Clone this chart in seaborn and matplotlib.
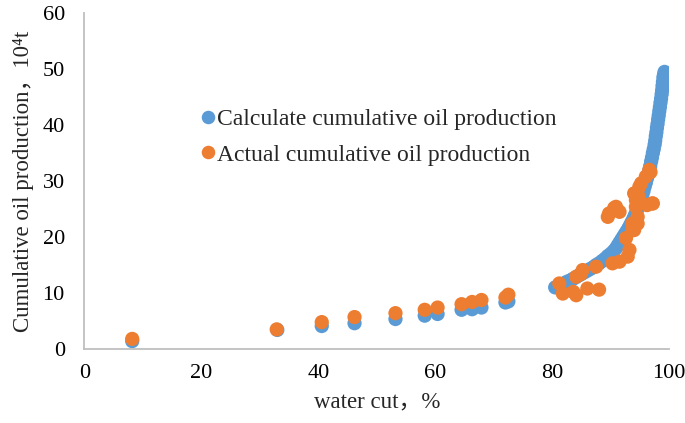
import pandas as pd
import matplotlib
matplotlib.use("Agg")
import matplotlib.pyplot as plt
import seaborn as sns

# calculated cumulative oil production (blue)
calc_wc = [8.2, 33.0, 40.6, 46.2, 53.2, 58.2, 60.4, 64.5, 66.3, 67.9, 72.0, 72.5,
           80.5, 81.0, 81.5, 82.0, 82.5, 83.0, 83.5, 84.0, 84.5, 85.0, 85.5, 86.0,
           86.5, 87.0, 87.5, 88.0, 88.5, 89.0, 89.5, 90.0, 90.5, 90.9, 91.2, 91.5,
           91.8, 92.1, 92.4, 92.7, 93.0, 93.25, 93.5, 93.75, 94.0, 94.25, 94.5, 94.75,
           95.0, 95.2, 95.4, 95.6, 95.8, 96.0, 96.2, 96.4, 96.6, 96.75, 96.9, 97.05,
           97.2, 97.35, 97.5, 97.6, 97.7, 97.8, 97.9, 98.0, 98.1, 98.2, 98.3, 98.4,
           98.5, 98.6, 98.7, 98.78, 98.85, 98.92, 99.0, 99.1, 99.2]
calc_np = [1.4, 3.4, 4.1, 4.6, 5.35, 5.95, 6.25, 7.0, 7.1, 7.4, 8.3, 8.5,
           11.0, 11.2, 11.5, 11.7, 12.0, 12.2, 12.5, 12.8, 13.1, 13.4, 13.7, 14.0,
           14.3, 14.6, 15.0, 15.3, 15.7, 16.1, 16.6, 17.0, 17.5, 18.0, 18.5, 19.0,
           19.5, 20.0, 20.5, 21.0, 21.5, 22.0, 22.5, 23.0, 23.6, 24.2, 24.8, 25.4,
           26.0, 26.7, 27.5, 28.2, 29.0, 29.7, 30.5, 31.2, 32.0, 32.7, 33.5, 34.2,
           35.0, 35.7, 36.5, 37.2, 38.0, 38.7, 39.5, 40.2, 41.0, 41.7, 42.5, 43.2,
           44.0, 44.7, 45.5, 46.2, 47.0, 47.7, 48.5, 49.0, 49.5]

# actual cumulative oil production (orange)
act_wc = [8.2, 32.9, 40.6, 46.2, 53.2, 58.2, 60.4, 64.5, 66.3, 67.9, 72.0, 72.5,
          81.2, 81.8, 84.1, 84.1, 85.2, 87.5, 86.0, 88.0, 84.9, 83.6,
          90.3, 91.5, 93.2, 92.6, 92.9, 93.7, 93.7, 94.0, 94.6,
          89.5, 89.7, 90.6, 90.9, 91.5,
          94.6, 94.3, 94.0, 94.3, 94.8, 94.9, 95.2, 96.0, 96.6, 96.8, 97.1, 96.2, 97.2]
act_np = [1.8, 3.5, 4.8, 5.7, 6.4, 7.0, 7.4, 8.0, 8.4, 8.75, 9.2, 9.7,
          11.7, 9.9, 9.6, 12.9, 14.1, 14.7, 10.8, 10.6, 13.4, 10.2,
          15.3, 15.6, 17.7, 19.8, 16.5, 21.2, 22.4, 21.25, 22.4,
          23.6, 24.2, 25.2, 25.4, 24.5,
          23.6, 25.4, 27.8, 26.6, 27.2, 29.0, 29.6, 30.8, 32.0, 31.6, 26.0, 25.7, 26.0]

calc_label = "Calculate cumulative oil production"
act_label = "Actual cumulative oil production"

df = pd.concat([
    pd.DataFrame({"wc": calc_wc, "np": calc_np, "series": calc_label}),
    pd.DataFrame({"wc": act_wc, "np": act_np, "series": act_label}),
], ignore_index=True)

sns.set_style("white")
plt.rcParams['font.family'] = ['Liberation Serif', 'DejaVu Serif', 'Noto Sans CJK SC']

fig, ax = plt.subplots(figsize=(6.85, 4.23), dpi=100)
fig.subplots_adjust(left=0.123, right=0.977, bottom=0.175, top=0.969)

sns.scatterplot(data=df, x="wc", y="np", hue="series",
                palette={calc_label: "#5B9BD5", act_label: "#ED7D31"},
                s=105, linewidth=0, alpha=1, ax=ax, legend=True)

ax.set_xlim(0, 100)
ax.set_ylim(0, 60)
ax.set_xticks([0, 20, 40, 60, 80, 100])
ax.set_yticks([0, 10, 20, 30, 40, 50, 60])
ax.tick_params(axis="both", length=0, labelsize=16, colors="#000000")
ax.tick_params(axis="x", pad=11)
ax.tick_params(axis="y", pad=14)

for side in ["top", "right"]:
    ax.spines[side].set_visible(False)
for side in ["left", "bottom"]:
    ax.spines[side].set_color("#BFBFBF")
    ax.spines[side].set_linewidth(1.3)

ax.set_xlabel("water cut，%", fontsize=16.5, labelpad=6)
ax.set_ylabel("Cumulative oil production，10⁴t", fontsize=16.5, labelpad=6)

leg = ax.legend(loc="upper left", bbox_to_anchor=(0.18, 0.743), frameon=False,
                fontsize=17, handletextpad=0.0, handlelength=0.75,
                labelspacing=0.58, borderaxespad=0, markerscale=0.95)

fig.savefig("out.png", dpi=100)
